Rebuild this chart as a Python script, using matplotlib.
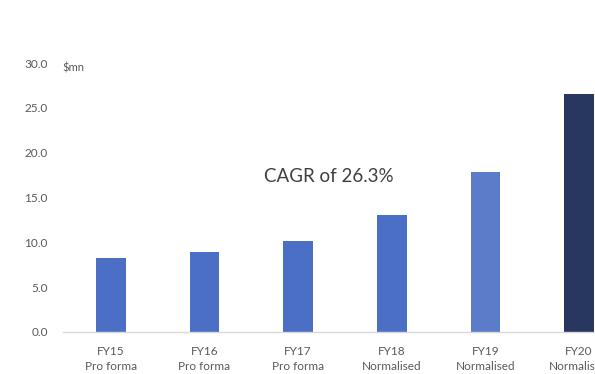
import matplotlib
matplotlib.use("Agg")
import matplotlib.pyplot as plt

years = ["FY15", "FY16", "FY17", "FY18", "FY19", "FY20"]
bases = ["Pro forma", "Pro forma", "Pro forma", "Normalised", "Normalised", "Normalised"]
revenue = [8.2, 8.9, 10.2, 13.0, 17.8, 26.5]
colors = ["#4a6fc4", "#4a6fc4", "#4a6fc4", "#4a6fc4", "#5b7dc9", "#27375f"]
yticks = [0.0, 5.0, 10.0, 15.0, 20.0, 25.0, 30.0]

plt.rcParams["font.family"] = ["Lato", "DejaVu Sans"]
TXT = "#595959"

fig = plt.figure(figsize=(5.95, 3.74), dpi=100)
ax = fig.add_axes([63 / 595, 1 - 332 / 374, 1 - 63 / 595, 269 / 374])

x = range(len(years))
ax.bar(x, revenue, width=0.315, color=colors, zorder=2)

ax.set_ylim(0, 30)
ax.set_xlim(-0.51, 5.17)
ax.set_yticks(yticks)
ax.set_yticklabels([f"{v:.1f}" for v in yticks], color=TXT, fontsize=8.5)
ax.set_xticks(list(x))
ax.set_xticklabels([f"{y}\n{b}" for y, b in zip(years, bases)],
                   color=TXT, fontsize=8.5, linespacing=1.5)
ax.tick_params(axis="both", length=0)
ax.tick_params(axis="y", pad=11)
ax.tick_params(axis="x", pad=10)

for side in ("top", "right", "left"):
    ax.spines[side].set_visible(False)
ax.spines["bottom"].set_color("#d9d9d9")
ax.spines["bottom"].set_linewidth(1.0)

ax.text(-0.52, 29.4, "$mn", color=TXT, fontsize=8, va="center", ha="left")
ax.text(2.33, 17.3, "CAGR of 26.3%", color="#404040", fontsize=13.5,
        ha="center", va="center")

fig.savefig("out.png", dpi=100)
